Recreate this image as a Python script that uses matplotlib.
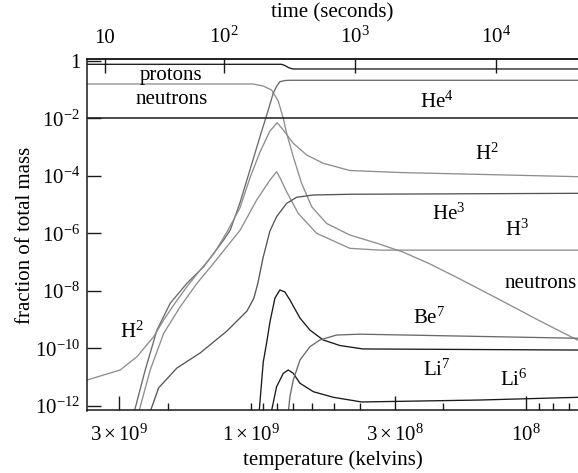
import matplotlib
matplotlib.use("Agg")
import matplotlib.pyplot as plt
from matplotlib.ticker import FixedLocator, NullLocator

plt.rcParams['font.family'] = ['Liberation Serif', 'DejaVu Serif']
plt.rcParams['mathtext.fontset'] = 'custom'
plt.rcParams['mathtext.rm'] = 'Liberation Serif'
plt.rcParams['mathtext.it'] = 'Liberation Serif:italic'
plt.rcParams['mathtext.bf'] = 'Liberation Serif:bold'

# ---- data (temperature in units of 1e9 K, mass fraction) ----
protons_T = [4.0, 0.772, 0.751, 0.726, 0.702, 0.064]
protons_X = [0.755, 0.755, 0.686, 0.571, 0.519, 0.519]

neutrons_T = [4.0, 0.981, 0.900, 0.839, 0.794, 0.761, 0.740, 0.700, 0.653, 0.600,
              0.530, 0.436, 0.350, 0.280, 0.2232, 0.1737, 0.124, 0.0889, 0.064]
neutrons_X = [0.156, 0.156, 0.133, 0.0964, 0.040, 0.0100, 3.0e-3, 4.6e-4, 5.5e-5, 8.4e-6,
              2.2e-6, 8.7e-7, 4.6e-7, 2.24e-7, 8.6e-8, 2.57e-8, 4.8e-9, 8.9e-10, 1.8e-10]

he4_T = [2.70, 2.415, 2.190, 1.959, 1.704, 1.481, 1.254, 1.186, 1.094, 1.006, 0.925,
         0.863, 0.828, 0.805, 0.783, 0.751, 0.720, 0.064]
he4_X = [3e-13, 1.76e-11, 4.3e-10, 3.7e-9, 1.82e-8, 6.9e-8, 5.8e-7, 1.30e-6, 1.13e-5,
         1.59e-4, 2.29e-3, 0.0194, 0.0741, 0.128, 0.1875, 0.206, 0.210, 0.210]

h2_T = [4.0, 2.977, 2.588, 2.251, 2.070, 1.904, 1.704, 1.524, 1.363, 1.219, 1.094,
        1.006, 0.925, 0.851, 0.801, 0.761, 0.700, 0.626, 0.545, 0.436, 0.287, 0.064]
h2_X = [7.5e-12, 1.76e-11, 5.1e-11, 2.53e-10, 9.6e-10, 3.2e-9, 1.39e-8, 5.3e-8, 1.9e-7,
        1.11e-6, 7.6e-6, 8.4e-5, 6.7e-4, 3.6e-3, 7.0e-3, 3.9e-3, 1.35e-3, 5.3e-4,
        2.72e-4, 1.53e-4, 1.30e-4, 9.3e-5]

h3_T = [2.60, 2.316, 2.070, 1.802, 1.567, 1.363, 1.091, 0.951, 0.851, 0.805, 0.783,
        0.740, 0.672, 0.576, 0.436, 0.339, 0.064]
h3_X = [3e-13, 1.76e-11, 3.3e-10, 2.8e-9, 1.82e-8, 9.1e-8, 1.30e-6, 1.44e-5, 7.1e-5,
        1.39e-4, 8.7e-5, 2.8e-5, 4.97e-6, 1.0e-6, 3.0e-7, 2.6e-7, 2.6e-7]

he3_T = [2.38, 2.159, 1.852, 1.525, 1.219, 1.031, 0.973, 0.941, 0.902, 0.851, 0.805,
         0.740, 0.681, 0.592, 0.436, 0.064]
he3_X = [3e-13, 4.2e-12, 2.07e-11, 6.9e-11, 4.0e-10, 1.98e-9, 5.6e-9, 1.87e-8, 1.38e-7,
         1.20e-6, 3.8e-6, 1.10e-5, 1.79e-5, 2.15e-5, 2.28e-5, 2.46e-5]

li7_T = [0.937, 0.900, 0.875, 0.851, 0.816, 0.783, 0.751, 0.720, 0.662, 0.609, 0.545,
         0.474, 0.391, 0.064]
li7_X = [3e-13, 3.3e-11, 1.53e-10, 8.2e-10, 5.6e-9, 1.07e-8, 9.1e-9, 4.8e-9, 1.13e-9,
         4.3e-10, 1.95e-10, 1.25e-10, 9.5e-11, 8.7e-11]

li6_T = [0.849, 0.805, 0.761, 0.730, 0.700, 0.662, 0.592, 0.501, 0.395, 0.147, 0.064]
li6_X = [4e-13, 4.6e-12, 1.35e-11, 1.76e-11, 1.35e-11, 6.1e-12, 3.1e-12, 1.98e-12,
         1.36e-12, 1.59e-12, 1.98e-12]

be7_T = [0.733, 0.720, 0.700, 0.662, 0.609, 0.560, 0.487, 0.401, 0.064]
be7_X = [4e-13, 2.07e-12, 7.9e-12, 3.9e-11, 1.14e-10, 1.95e-10, 2.9e-10, 3.1e-10, 2.23e-10]

temp_ticks = [3e9, 1e9, 3e8, 1e8]
temp_labels = [r'$3\times10^{9}$', r'$1\times10^{9}$', r'$3\times10^{8}$', r'$10^{8}$']
temp_minor = [2e9, 9e8, 8e8, 7e8, 6e8, 5e8, 4e8, 2e8, 9e7, 8e7, 7e7]

time_ticks_T = [3.382e9, 1.250e9, 4.18e8, 1.285e8]   # temperatures at t = 10, 100, 1000, 10000 s
time_labels = ['10', r'$10^{2}$', r'$10^{3}$', r'$10^{4}$']

y_ticks = [1, 1e-2, 1e-4, 1e-6, 1e-8, 1e-10, 1e-12]
y_labels = ['1', r'$10^{-2}$', r'$10^{-4}$', r'$10^{-6}$', r'$10^{-8}$', r'$10^{-10}$', r'$10^{-12}$']

# ---- plot ----
FS = 15
W, H = 578, 473
fig = plt.figure(figsize=(W / 100, H / 100), dpi=100)
ax = fig.add_axes([87 / W, 1 - 410.5 / H, 491 / W, 351.2 / H])

BLACK = '#1a1a1a'
DARK = '#555555'
MID = '#6a6a6a'
LIGHT = '#8e8e8e'
lw = 0.95

def sc(T):
    return [t * 1e9 for t in T]

ax.plot(sc(protons_T), protons_X, color=BLACK, lw=lw)
ax.plot(sc(neutrons_T), neutrons_X, color=LIGHT, lw=lw)
ax.plot(sc(he4_T), he4_X, color=MID, lw=lw)
ax.plot(sc(h2_T), h2_X, color=LIGHT, lw=lw)
ax.plot(sc(h3_T), h3_X, color=LIGHT, lw=lw)
ax.plot(sc(he3_T), he3_X, color=DARK, lw=lw)
ax.plot(sc(li7_T), li7_X, color=BLACK, lw=lw)
ax.plot(sc(li6_T), li6_X, color=BLACK, lw=lw)
ax.plot(sc(be7_T), be7_X, color=MID, lw=lw)
ax.axhline(1e-2, color=BLACK, lw=1.1)

ax.set_xscale('log')
ax.set_yscale('log')
ax.set_xlim(3.93e9, 6.47e7)
ax.set_ylim(10 ** -12.163, 10 ** 0.052)

ax.xaxis.set_major_locator(FixedLocator(temp_ticks))
ax.set_xticklabels(temp_labels)
ax.xaxis.set_minor_locator(FixedLocator(temp_minor))
ax.xaxis.set_minor_formatter(plt.NullFormatter())
ax.yaxis.set_major_locator(FixedLocator(y_ticks))
ax.set_yticklabels(y_labels)
ax.yaxis.set_minor_locator(NullLocator())

ax.tick_params(axis='x', which='major', direction='in', length=10, width=1.0, pad=10,
               labelsize=FS, top=False, color=BLACK)
ax.tick_params(axis='x', which='minor', direction='in', length=5, width=1.0, top=False,
               color=BLACK)
ax.tick_params(axis='y', which='major', direction='in', length=10, width=1.0, pad=5,
               labelsize=FS, right=False, color=BLACK)
ax.xaxis.get_major_ticks()[1].tick1line.set_markersize(5)

for s in ['left', 'bottom', 'top']:
    ax.spines[s].set_linewidth(1.1)
    ax.spines[s].set_color(BLACK)
ax.spines['right'].set_visible(False)

ax.set_xlabel('temperature (kelvins)', fontsize=FS)
ax.xaxis.set_label_coords(0.5, -0.112)
ax.set_ylabel('fraction of total mass', fontsize=FS)
ax.yaxis.set_label_coords(-0.105, 0.5)

ax2 = ax.twiny()
ax2.set_xscale('log')
ax2.set_xlim(ax.get_xlim())
ax2.xaxis.set_major_locator(FixedLocator(time_ticks_T))
ax2.set_xticklabels(time_labels)
ax2.xaxis.set_minor_locator(NullLocator())
ax2.tick_params(axis='x', which='major', direction='in', length=10, width=1.0, pad=8,
                labelsize=FS, color=BLACK)
for s in ['left', 'bottom', 'right']:
    ax2.spines[s].set_visible(False)
ax2.spines['top'].set_linewidth(1.1)
ax2.spines['top'].set_color(BLACK)
ax2.set_xlabel('time (seconds)', fontsize=FS)
ax2.xaxis.set_label_coords(0.5, 1.118)

labels = [
    ('protons', 0.108, 0.941),
    ('neutrons', 0.098, 0.8727),
    (r'He$^{4}$', 0.678, 0.8605),
    (r'H$^{2}$', 0.790, 0.7133),
    (r'He$^{3}$', 0.702, 0.5444),
    (r'H$^{3}$', 0.851, 0.4977),
    ('neutrons', 0.850, 0.3497),
    (r'Be$^{7}$', 0.663, 0.2463),
    (r'Li$^{7}$', 0.684, 0.0982),
    (r'Li$^{6}$', 0.841, 0.0698),
    (r'H$^{2}$', 0.0678, 0.2056),
]
for txt, fx, fy in labels:
    ax.text(fx, fy, txt, transform=ax.transAxes, fontsize=FS, ha='left', va='baseline',
            color='black')

fig.savefig('out.png', dpi=100)
